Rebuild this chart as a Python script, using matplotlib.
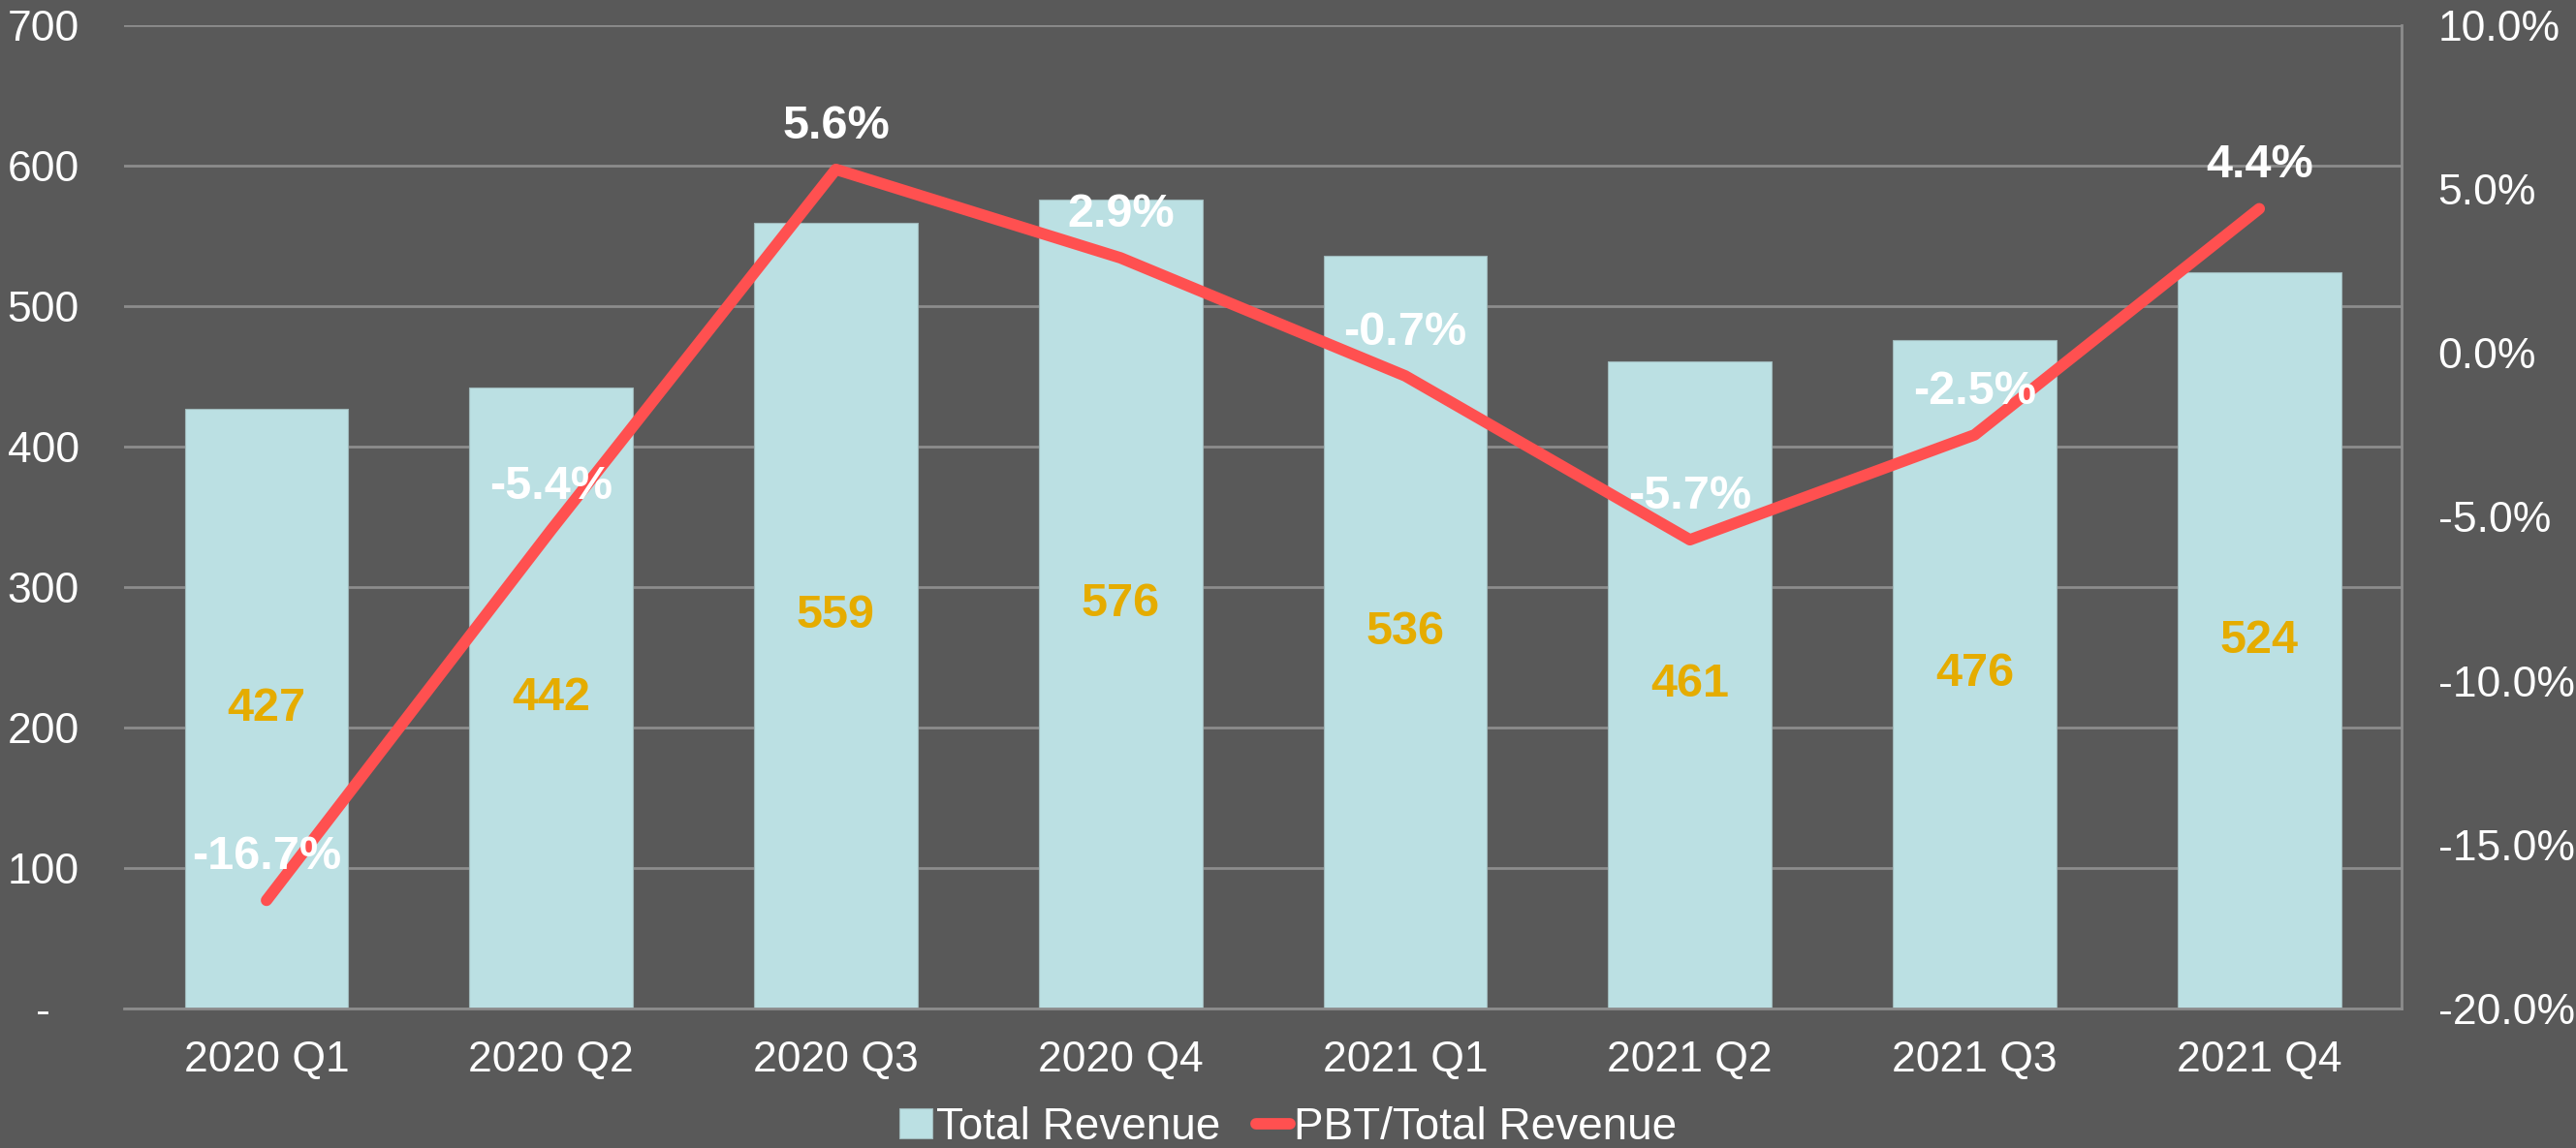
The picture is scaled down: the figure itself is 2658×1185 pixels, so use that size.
import numpy as np
import matplotlib
matplotlib.use("Agg")
import matplotlib.pyplot as plt

quarters = ["2020 Q1", "2020 Q2", "2020 Q3", "2020 Q4",
            "2021 Q1", "2021 Q2", "2021 Q3", "2021 Q4"]
revenue = [427, 442, 559, 576, 536, 461, 476, 524]
pbt_margin = [-16.7, -5.4, 5.6, 2.9, -0.7, -5.7, -2.5, 4.4]

bg = "#595959"
bar_color = "#BBE0E3"
line_color = "#FF5050"
grid_color = "#8C8C8C"
label_color = "#E5AC00"

plt.rcParams["font.family"] = ["Liberation Sans", "DejaVu Sans"]

fig = plt.figure(figsize=(26.58, 11.85), dpi=100, facecolor=bg)
ax = fig.add_axes([0.0482, 0.1215, 0.8841, 0.8566])
ax.set_facecolor(bg)
ax2 = ax.twinx()

x = np.arange(len(quarters))
bars = ax.bar(x, revenue, width=0.575, color=bar_color, edgecolor="#9FB8BA",
              linewidth=0.8, label="Total Revenue", zorder=2)
ax.set_xlim(-0.5, len(quarters) - 0.5)
ax.set_ylim(0, 700)
ax.set_yticks(range(0, 701, 100))
ax.set_yticklabels(["-"] + [str(v) for v in range(100, 701, 100)])
ax.yaxis.grid(True, color=grid_color, linewidth=2)
ax.set_axisbelow(True)
ax.set_xticks(x)
ax.set_xticklabels(quarters)

for b, v in zip(bars, revenue):
    ax.text(b.get_x() + b.get_width() / 2, v / 2, str(v), ha="center",
            va="center", color=label_color, fontsize=35, fontweight="bold",
            zorder=5)

line, = ax2.plot(x, pbt_margin, color=line_color, linewidth=8.5,
                 solid_capstyle="round", solid_joinstyle="round",
                 label="PBT/Total Revenue", zorder=3)
ax2.set_ylim(-20, 10)
ax2.set_yticks(range(-20, 11, 5))
ax2.set_yticklabels(["%.1f%%" % v for v in range(-20, 11, 5)])

for xi, v in zip(x, pbt_margin):
    ax2.annotate("%.1f%%" % v, (xi, v), xytext=(0, 32),
                 textcoords="offset points", ha="center", va="center",
                 color="white", fontsize=35, fontweight="bold", zorder=6)

for a in (ax, ax2):
    for s in a.spines.values():
        s.set_visible(False)
ax2.spines["right"].set_visible(True)
ax2.spines["right"].set_color(grid_color)
ax2.spines["right"].set_linewidth(2)
ax.spines["bottom"].set_visible(True)
ax.spines["bottom"].set_color(grid_color)
ax.spines["bottom"].set_linewidth(2)

ax.tick_params(axis="x", length=0, pad=24, labelsize=32, labelcolor="white")
ax.tick_params(axis="y", length=0, pad=60, labelsize=32, labelcolor="white")
for t in ax.get_yticklabels():
    t.set_horizontalalignment("center")
ax2.tick_params(axis="y", length=0, pad=27, labelsize=32, labelcolor="white")

leg = fig.legend(handles=[bars, line], loc="center",
                 bbox_to_anchor=(0.5, 0.018), ncol=2, frameon=False,
                 prop={"size": 33},
                 handlelength=0.75, handleheight=0.65, handletextpad=0.1,
                 columnspacing=0.8, labelcolor="white")

fig.savefig("out.png", dpi=100, facecolor=bg)
